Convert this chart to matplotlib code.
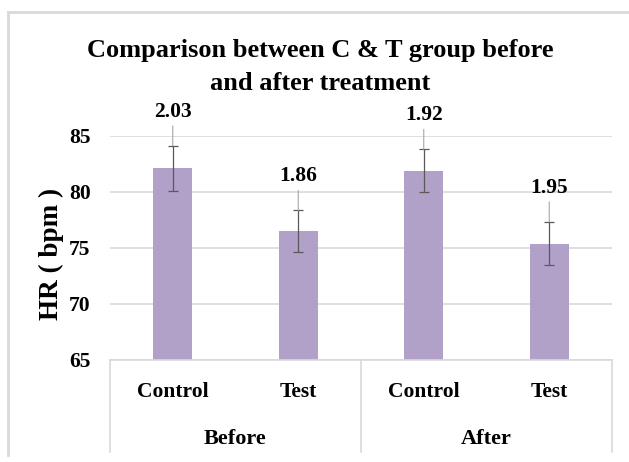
import matplotlib
matplotlib.use("Agg")
import matplotlib.pyplot as plt
from matplotlib.lines import Line2D
import matplotlib.transforms as mtransforms

# ---- data ----
groups = ["Before", "After"]
categories = ["Control", "Test", "Control", "Test"]
means = [82.1, 76.5, 81.9, 75.4]
errors = [2.03, 1.86, 1.92, 1.95]
yticks = [65, 70, 75, 80, 85]
title_lines = ["Comparison between C & T group before", "and after treatment"]
ylabel = "HR ( bpm )"

serif = ["Liberation Serif", "Noto Sans CJK SC", "DejaVu Sans"]
plt.rcParams["font.family"] = serif
plt.rcParams["font.weight"] = "bold"

W, H = 629, 462
fig = plt.figure(figsize=(W / 100, H / 100), dpi=100)
fig.patch.set_facecolor("white")

ax_left, ax_right, ax_top, ax_bot = 110, 612, 136, 360
ax = fig.add_axes([ax_left / W, 1 - ax_bot / H, (ax_right - ax_left) / W, (ax_bot - ax_top) / H])

bar_color = "#b1a0c7"
grid_color = "#d9d9d9"
x = list(range(len(categories)))
ax.bar(x, means, width=0.31, color=bar_color, zorder=2)
ax.errorbar(x, means, yerr=errors, fmt="none", ecolor="#595959", elinewidth=0.9,
            capsize=3.5, capthick=0.9, zorder=3)

for xi, m, e in zip(x, means, errors):
    ax.annotate(f"{e:.2f}", xy=(xi, m + e), xytext=(0, 34), textcoords="offset pixels",
                ha="center", va="center", fontsize=15.5, fontweight="bold",
                arrowprops=dict(arrowstyle="-", color="#a6a6a6", lw=0.8, shrinkA=1, shrinkB=0),
                annotation_clip=False, zorder=4)

ax.set_xlim(-0.5, len(categories) - 0.5)
ax.set_ylim(yticks[0], yticks[-1])
ax.set_yticks(yticks)
ax.set_yticklabels([str(t) for t in yticks], fontsize=15.5, fontweight="bold")
ax.tick_params(axis="y", length=0, pad=14)
ax.set_xticks([])
ax.yaxis.grid(True, color=grid_color, lw=1.2, zorder=0)
ax.set_axisbelow(True)
for s in ["left", "right", "top"]:
    ax.spines[s].set_visible(False)
ax.spines["bottom"].set_color(grid_color)
ax.spines["bottom"].set_linewidth(1.2)

# category axis box
trans = mtransforms.blended_transform_factory(ax.transData, ax.transAxes)
box_bottom = -0.41
for xb in [-0.5, 1.5, len(categories) - 0.5]:
    ax.add_line(Line2D([xb, xb], [0, box_bottom], transform=trans, color=grid_color,
                       lw=1.2, clip_on=False))
for xi, c in zip(x, categories):
    ax.text(xi, -0.142, c, transform=trans, ha="center", va="center",
            fontsize=15.5, fontweight="bold")
for gi, g in enumerate(groups):
    ax.text(gi * 2 + 0.5, -0.353, g, transform=trans, ha="center", va="center",
            fontsize=16, fontweight="bold")

ax.set_ylabel(ylabel, fontsize=19.5, fontweight="bold")
ax.yaxis.set_label_coords((51.7 - ax_left) / (ax_right - ax_left), (ax_bot - 254) / (ax_bot - ax_top))
ax.yaxis.label.set_va("center")

# title
fig.text(320.5 / W, 1 - 51 / H, title_lines[0], ha="center", va="center",
         fontsize=19, fontweight="bold")
fig.text(320.5 / W, 1 - 84 / H, title_lines[1], ha="center", va="center",
         fontsize=19, fontweight="bold")

# chart frame
fig.add_artist(Line2D([8 / W, 1], [1 - 12 / H, 1 - 12 / H], transform=fig.transFigure,
                      color="#d9d9d9", lw=2))
fig.add_artist(Line2D([8 / W, 8 / W], [1 - 12 / H, 1 - 455 / H], transform=fig.transFigure,
                      color="#d9d9d9", lw=2))

fig.savefig("out.png", dpi=100, facecolor="white")
